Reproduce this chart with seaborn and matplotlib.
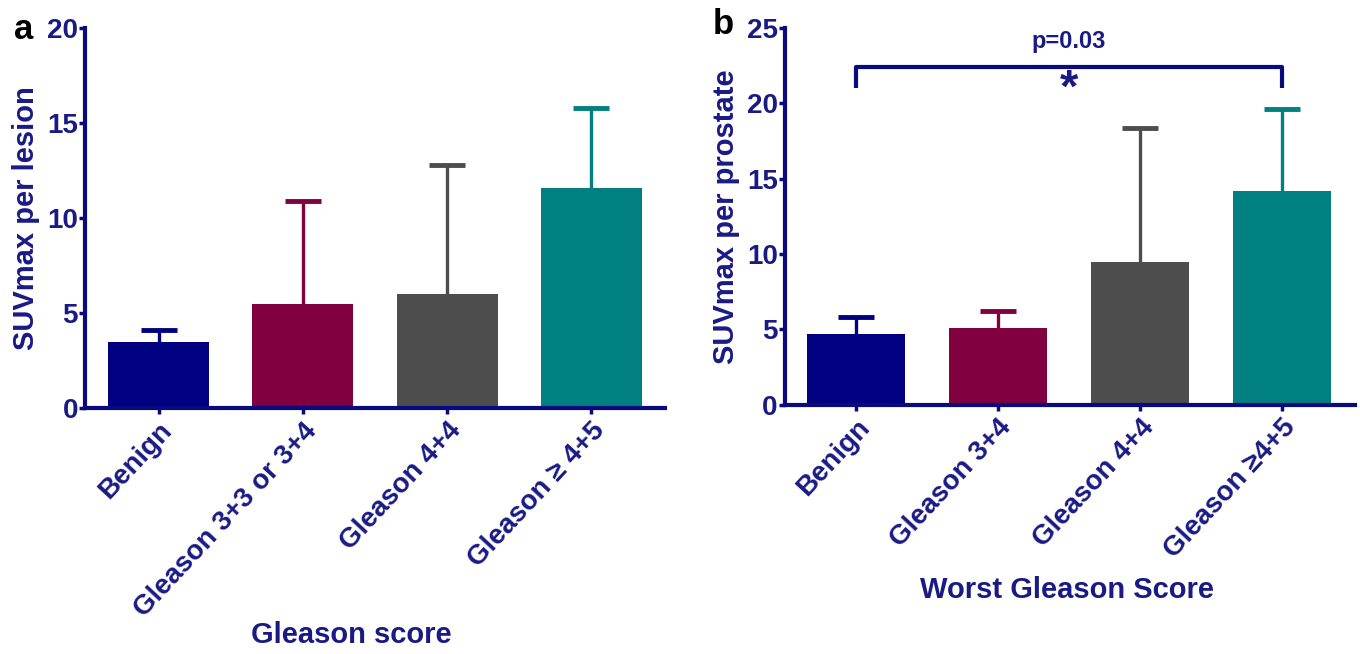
import numpy as np
import pandas as pd
import matplotlib
matplotlib.use("Agg")
import matplotlib.pyplot as plt
import seaborn as sns

# ---------------- data ----------------
cats_a = ["Benign", "Gleason 3+3 or 3+4", "Gleason 4+4", "Gleason \u2265 4+5"]
mean_a = [3.5, 5.5, 6.0, 11.6]
upper_a = [4.1, 10.9, 12.8, 15.8]

cats_b = ["Benign", "Gleason 3+4", "Gleason 4+4", "Gleason \u22654+5"]
mean_b = [4.7, 5.1, 9.5, 14.2]
upper_b = [5.8, 6.2, 18.4, 19.6]

colors = ["#000080", "#800040", "#4d4d4d", "#008080"]

sns.set_theme(style="white")
plt.rcParams["font.family"] = ["Liberation Sans", "DejaVu Sans"]

TXT = "#1a1a85"
AX = "#0a0a80"

fig = plt.figure(figsize=(13.6, 6.54), dpi=100)
ax_a = fig.add_axes([0.0625, 0.376, 0.4265, 0.581])
ax_b = fig.add_axes([0.577, 0.381, 0.419, 0.576])


def draw(ax, cats, means, uppers, ymax, xlab, ylab, xl, xlc, ylc, width):
    df = pd.DataFrame({"cat": cats, "val": means})
    sns.barplot(data=df, x="cat", y="val", hue="cat", palette=colors,
                width=width, legend=False, ax=ax, saturation=1,
                edgecolor="none")
    for i, (m, u) in enumerate(zip(means, uppers)):
        _, caps, _ = ax.errorbar(i, m, yerr=[[0], [u - m]], fmt="none",
                                 ecolor=colors[i], elinewidth=2.4, capsize=13,
                                 capthick=3.5, zorder=1)
        if len(caps) > 1:
            caps[0].set_visible(False)
    ax.set_ylim(0, ymax)
    ax.set_xlim(*xl)
    ax.set_yticks(np.arange(0, ymax + 1, 5))
    for s in ["top", "right"]:
        ax.spines[s].set_visible(False)
    for s in ["left", "bottom"]:
        ax.spines[s].set_color(AX)
        ax.spines[s].set_linewidth(3)
    ax.tick_params(axis="y", colors=AX, length=4, width=2.5, pad=1,
                   labelsize=20, labelcolor=TXT, left=True)
    ax.tick_params(axis="x", colors=AX, length=4, width=2.5, pad=3,
                   labelsize=20, labelcolor=TXT, bottom=True)
    for lab in ax.get_yticklabels():
        lab.set_fontweight("bold")
    ax.set_xticks(range(len(cats)))
    ax.set_xticklabels(cats, rotation=47, ha="right", va="top",
                       rotation_mode="anchor", fontweight="bold")
    ax.set_xlabel(xlab, fontsize=21, fontweight="bold", color=TXT)
    ax.set_ylabel(ylab, fontsize=21, fontweight="bold", color=TXT)
    ax.xaxis.label.set_va("center")
    ax.xaxis.set_label_coords(*xlc)
    ax.yaxis.label.set_va("center")
    ax.yaxis.set_label_coords(*ylc)


draw(ax_a, cats_a, mean_a, upper_a, 20, "Gleason score", "SUVmax per lesion",
     (-0.51, 3.51), (0.459, -0.597), (-0.102, 0.5), 0.7)
draw(ax_b, cats_b, mean_b, upper_b, 25, "Worst Gleason Score",
     "SUVmax per prostate", (-0.5, 3.51), (0.495, -0.491), (-0.1035, 0.5), 0.69)

# significance bracket in panel b
bx = [0, 0, 3, 3]
by = [21.0, 22.4, 22.4, 21.0]
ax_b.plot(bx, by, color=AX, lw=3, solid_capstyle="butt", clip_on=False)
ax_b.text(1.5, 24.1, "p=0.03", ha="center", va="center", fontsize=17,
          fontweight="bold", color=TXT)
ax_b.text(1.5, 20.9, "*", ha="center", va="center", fontsize=34,
          fontweight="bold", color=TXT)

fig.text(0.0175, 0.955, "a", fontsize=25, fontweight="bold", color="black",
         ha="center", va="center")
fig.text(0.532, 0.962, "b", fontsize=25, fontweight="bold", color="black",
         ha="center", va="center")

fig.savefig("out.png", dpi=100)
